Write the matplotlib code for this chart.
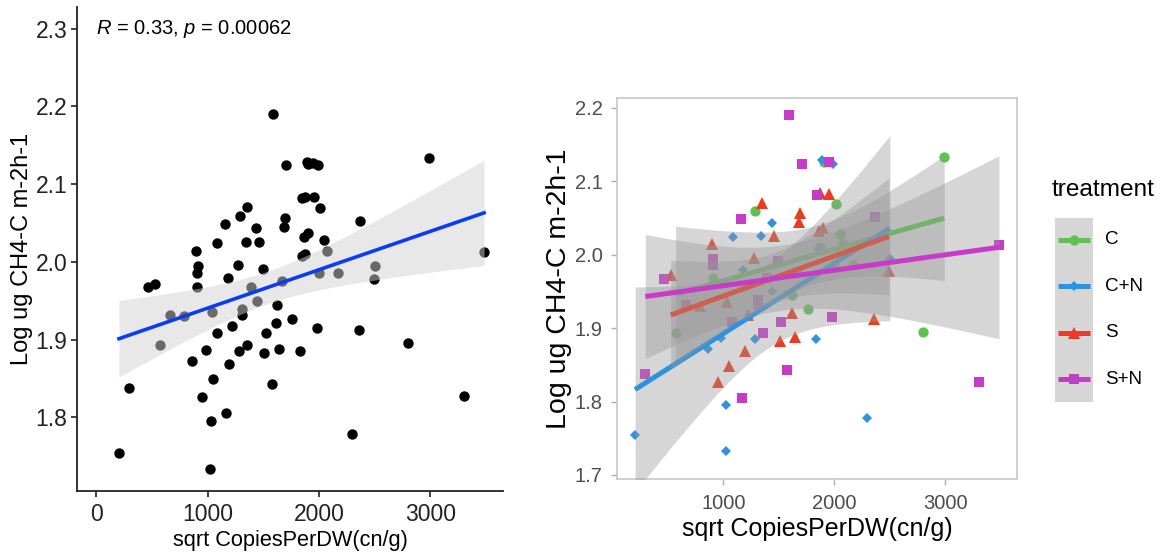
import matplotlib.pyplot as plt
import numpy as np
from matplotlib.patches import Rectangle

plt.rcParams['font.family'] = ['Liberation Sans', 'DejaVu Sans']
plt.rcParams['mathtext.fontset'] = 'custom'
plt.rcParams['mathtext.rm'] = 'Liberation Sans'
plt.rcParams['mathtext.it'] = 'Liberation Sans:italic'

# sqrt gene copies per dry weight, log CH4 flux and treatment for each plot
copies = np.array([1590, 2990, 1705, 1890, 1905, 1950, 1988, 1845, 1873, 1955,
                   2010, 1350, 1288, 1160, 1691, 1684, 2369, 1436, 1082, 1342,
                   1458, 1862, 1898, 2046, 2074, 892, 1850, 1872, 909, 905,
                   1276, 1493, 1179, 464, 524, 905, 2000, 2167, 2500, 2492,
                   1667, 1388, 1439, 3483, 1620, 1035, 1312, 1310, 658, 790,
                   1760, 1978, 2356, 1222, 1080, 1520, 1615, 568, 2796, 1352,
                   1285, 982, 1642, 1508, 1832, 856, 1195, 1050, 1575, 295,
                   948, 3305, 1168, 1027, 2292, 203, 1020])
ch4 = np.array([2.190, 2.133, 2.124, 2.129, 2.126, 2.127, 2.124, 2.082, 2.084, 2.083,
                2.069, 2.071, 2.059, 2.049, 2.057, 2.045, 2.052, 2.043, 2.024, 2.026,
                2.026, 2.032, 2.037, 2.028, 2.014, 2.014, 2.008, 2.010, 1.994, 1.986,
                1.996, 1.991, 1.979, 1.967, 1.972, 1.968, 1.986, 1.986, 1.994, 1.978,
                1.975, 1.968, 1.950, 2.013, 1.945, 1.936, 1.939, 1.932, 1.931, 1.930,
                1.926, 1.915, 1.912, 1.918, 1.908, 1.908, 1.921, 1.893, 1.895, 1.893,
                1.885, 1.887, 1.888, 1.882, 1.885, 1.872, 1.869, 1.849, 1.843, 1.837,
                1.826, 1.827, 1.805, 1.795, 1.778, 1.754, 1.733])
treatment = np.array(['S+N', 'C', 'S+N', 'C+N', 'C', 'S+N', 'C+N', 'S+N', 'S', 'S',
                      'C', 'S', 'C', 'S+N', 'S', 'S', 'S+N', 'C+N', 'C+N', 'C+N',
                      'S', 'S', 'S', 'C', 'C', 'S', 'C+N', 'C', 'S+N', 'S+N',
                      'S', 'S+N', 'C+N', 'S+N', 'S', 'C', 'C', 'C', 'C+N', 'S',
                      'C', 'S+N', 'C+N', 'S+N', 'C', 'S', 'S+N', 'S+N', 'S+N', 'S',
                      'C', 'S+N', 'S', 'S', 'S+N', 'S+N', 'S', 'C', 'C', 'S+N',
                      'C+N', 'C+N', 'S', 'S', 'C+N', 'C+N', 'S', 'S', 'S+N', 'S+N',
                      'S', 'S+N', 'S+N', 'C+N', 'C+N', 'C+N', 'C+N'])

groups = ['C', 'C+N', 'S', 'S+N']
colours = {'C': '#5cc34f', 'C+N': '#2b93e0', 'S': '#ee3a1f', 'S+N': '#c83bc8'}
markers = {'C': ('o', 7.4), 'C+N': ('D', 4.6), 'S': ('^', 8.2), 'S+N': ('s', 6.6)}

xticks = [0, 1000, 2000, 3000]
yticks_left = [1.8, 1.9, 2.0, 2.1, 2.2, 2.3]
yticks_right = [1.7, 1.8, 1.9, 2.0, 2.1, 2.2]

W, H = 1165, 554
fig = plt.figure(figsize=(W / 100, H / 100), dpi=100)


def px_axes(x0, y0, x1, y1):
    return fig.add_axes([x0 / W, 1 - y1 / H, (x1 - x0) / W, (y1 - y0) / H])


def lm_band(x, y, xs):
    # ordinary least squares line with 95% confidence band
    n = len(x)
    b, a = np.polyfit(x, y, 1)
    s = np.sqrt(np.sum((y - (a + b * x)) ** 2) / (n - 2))
    sxx = np.sum((x - x.mean()) ** 2)
    t = 1.96 + 2.4 / (n - 2)
    fit = a + b * xs
    half = t * s * np.sqrt(1 / n + (xs - x.mean()) ** 2 / sxx)
    return fit, fit - half, fit + half


# ---- left: all plots pooled
ax1 = px_axes(77, 7, 503, 491)
ax1.scatter(copies, ch4, s=56, color='black', linewidths=0, zorder=2)
xs = np.linspace(copies.min(), copies.max(), 100)
fit, lo, hi = lm_band(copies, ch4, xs)
ax1.fill_between(xs, lo, hi, color='#d3d3d3', alpha=0.5, lw=0, zorder=3)
ax1.plot(xs, fit, color='#0a3cf5', lw=2.6, zorder=4)
ax1.text(0, 2.3, r'$R$ = 0.33, $p$ = 0.00062', fontsize=14.5, va='center', ha='left')
ax1.set_xlim(-174, 3653)
ax1.set_ylim(1.705, 2.328)
ax1.set_xticks(xticks)
ax1.set_yticks(yticks_left)
ax1.set_yticklabels(['%.1f' % v for v in yticks_left])
for side in ['top', 'right']:
    ax1.spines[side].set_visible(False)
for side in ['left', 'bottom']:
    ax1.spines[side].set_linewidth(1.3)
    ax1.spines[side].set_color('#222222')
ax1.tick_params(labelsize=16.5, length=4.5, width=1.2, colors='#222222', pad=2.5)
ax1.tick_params(axis='x', pad=4)
ax1.set_xlabel('sqrt CopiesPerDW(cn/g)', fontsize=15.7, labelpad=3)
ax1.set_ylabel('Log ug CH4-C m-2h-1', fontsize=17, labelpad=2)

# ---- right: one fit per treatment
ax2 = px_axes(617, 98, 1017, 479)
for g in groups:
    m = treatment == g
    mk, ms = markers[g]
    ax2.plot(copies[m], ch4[m], ls='none', marker=mk, ms=ms, color=colours[g],
             mew=0, zorder=2)
z = 3
for g in groups:
    m = treatment == g
    xg, yg = copies[m], ch4[m]
    xs = np.linspace(xg.min(), xg.max(), 80)
    fit, lo, hi = lm_band(xg, yg, xs)
    ax2.fill_between(xs, lo, hi, color='#999999', alpha=0.4, lw=0, zorder=z)
    ax2.plot(xs, fit, color=colours[g], lw=3.6, solid_capstyle='butt', zorder=z + 1)
    z += 2
ax2.set_xlim(40, 3646)
ax2.set_ylim(1.6945, 2.2136)
ax2.set_xticks(xticks[1:])
ax2.set_yticks(yticks_right)
ax2.set_yticklabels(['%.1f' % v for v in yticks_right])
for side in ax2.spines.values():
    side.set_color('#c4c4c4')
    side.set_linewidth(1.1)
ax2.tick_params(labelsize=14.5, length=4.5, width=1.0, color='#b0b0b0',
                labelcolor='#4d4d4d', pad=6)
ax2.tick_params(axis='x', pad=6)
ax2.set_xlabel('sqrt CopiesPerDW(cn/g)', fontsize=18, labelpad=3)
ax2.set_ylabel('Log ug CH4-C m-2h-1', fontsize=20.5, labelpad=2)

# ---- legend drawn in pixel space
lg = px_axes(1040, 160, 1165, 420)
lg.set_xlim(1040, 1165)
lg.set_ylim(420, 160)
lg.axis('off')
lg.text(1052, 190, 'treatment', fontsize=17.6, va='center', ha='left')
lg.add_patch(Rectangle((1055, 218), 38, 184, facecolor='#d6d6d6', edgecolor='none'))
for i, g in enumerate(groups):
    yk = 240 + i * 46.4
    mk, ms = markers[g]
    lg.plot([1058, 1090], [yk, yk], color=colours[g], lw=3.6, solid_capstyle='butt')
    lg.plot([1074], [yk], marker=mk, ms=ms, color=colours[g], mew=0)
    lg.text(1105, yk, g, fontsize=13.6, va='center', ha='left')

fig.savefig('out.png', dpi=100)
